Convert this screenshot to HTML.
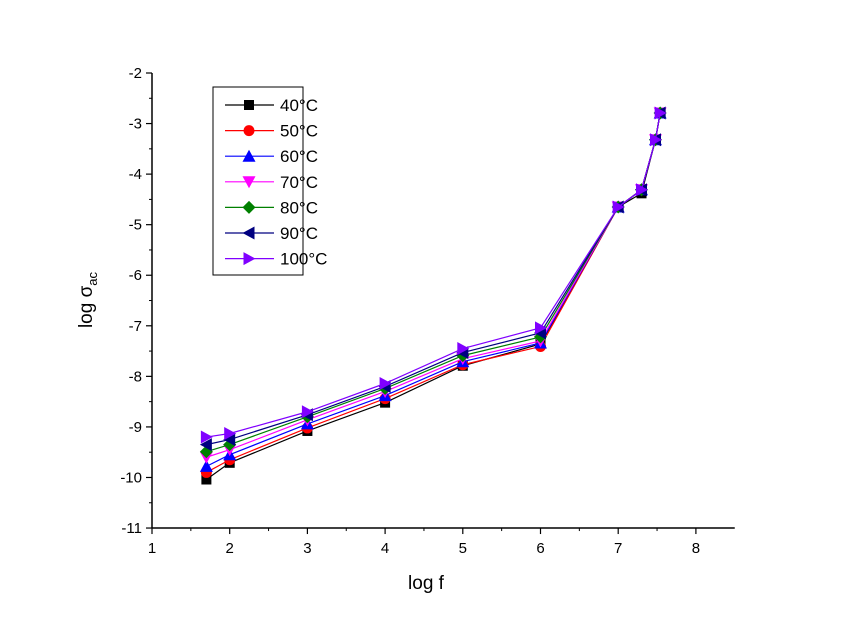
<!DOCTYPE html>
<html><head><meta charset="utf-8"><style>
body{margin:0;background:#fff}
svg text{font-family:"Liberation Sans",Arial,sans-serif;fill:#000}
</style></head><body>
<svg id="chart" width="853" height="635" viewBox="0 0 853 635" xmlns="http://www.w3.org/2000/svg"></svg>
<script>
const xValues=[1.7,2,3,4,5,6,7,7.3,7.48,7.54];
const seriesNames=["40°C","50°C","60°C","70°C","80°C","90°C","100°C"];
const s40=[-10.04,-9.71,-9.08,-8.52,-7.79,-7.36,-4.65,-4.38,-3.32,-2.79];
const s50=[-9.9,-9.65,-9.02,-8.44,-7.77,-7.41,-4.65,-4.31,-3.32,-2.79];
const s60=[-9.78,-9.55,-8.94,-8.38,-7.71,-7.34,-4.65,-4.31,-3.32,-2.79];
const s70=[-9.6,-9.45,-8.86,-8.3,-7.65,-7.3,-4.65,-4.31,-3.32,-2.79];
const s80=[-9.49,-9.35,-8.8,-8.24,-7.59,-7.22,-4.65,-4.31,-3.32,-2.79];
const s90=[-9.35,-9.25,-8.76,-8.2,-7.53,-7.14,-4.65,-4.31,-3.32,-2.79];
const s100=[-9.2,-9.13,-8.7,-8.14,-7.45,-7.04,-4.65,-4.31,-3.32,-2.79];
const xTicks=[1,2,3,4,5,6,7,8];
const yTicks=[-2,-3,-4,-5,-6,-7,-8,-9,-10,-11];
const seriesData=[s40,s50,s60,s70,s80,s90,s100];
const colors=["#000000","#ff0000","#0000ff","#ff00ff","#008000","#000080","#8000ff"];
const markers=["square","circle","up","down","diamond","left","right"];

const NS="http://www.w3.org/2000/svg";
const svg=document.getElementById('chart');
const X0=152,PX=77.7,Y0=73,PY=50.56;
const xs=v=>X0+(v-1)*PX;
const ys=v=>Y0+(-2-v)*PY;
function mk(tag,attrs,parent){const e=document.createElementNS(NS,tag);for(const k in attrs)e.setAttribute(k,attrs[k]);(parent||svg).appendChild(e);return e;}

const axes=mk('g',{});


const yAxis=mk('line',{x1:X0,y1:ys(-2),x2:X0,y2:ys(-11),stroke:'#000','stroke-width':1.5},axes);


const xAxis=mk('line',{x1:X0,y1:ys(-11),x2:xs(8.5),y2:ys(-11),stroke:'#000','stroke-width':1.5},axes);


const yb=ys(-11);
xTicks.forEach(t=>{
  mk('line',{x1:xs(t),y1:yb,x2:xs(t),y2:yb+6,stroke:'#000','stroke-width':1.2},axes);
  if(t<8)mk('line',{x1:xs(t+0.5),y1:yb,x2:xs(t+0.5),y2:yb+3,stroke:'#000','stroke-width':1},axes);
  const tx=mk('text',{x:xs(t),y:yb+25,'text-anchor':'middle','font-size':15},axes);tx.textContent=t;
  
  
});
yTicks.forEach(t=>{
  mk('line',{x1:X0,y1:ys(t),x2:X0-6,y2:ys(t),stroke:'#000','stroke-width':1.2},axes);
  if(t>-11)mk('line',{x1:X0,y1:ys(t-0.5),x2:X0-3,y2:ys(t-0.5),stroke:'#000','stroke-width':1},axes);
  const tx=mk('text',{x:X0-10,y:ys(t)+5,'text-anchor':'end','font-size':15},axes);tx.textContent=t;
  
  
});
const xt=mk('text',{x:426,y:589,'text-anchor':'middle','font-size':19});xt.textContent='log f';


const yt=mk('text',{x:0,y:0,'text-anchor':'middle','font-size':19,transform:'translate(92,300) rotate(-90)'});
yt.innerHTML='log σ<tspan font-size="13" dy="5">ac</tspan>';



function marker(type,x,y,c,parent){
  const r=5.5;let e;
  if(type==='square')e=mk('rect',{x:x-r+0.5,y:y-r+0.5,width:2*r-1,height:2*r-1,fill:c},parent);
  else if(type==='circle')e=mk('circle',{cx:x,cy:y,r:r,fill:c},parent);
  else{
    let p;
    if(type==='up')p=[[x,y-r-1],[x+r+1,y+r],[x-r-1,y+r]];
    if(type==='down')p=[[x-r-1,y-r],[x+r+1,y-r],[x,y+r+1]];
    if(type==='diamond')p=[[x,y-r-1],[x+r+1,y],[x,y+r+1],[x-r-1,y]];
    if(type==='left')p=[[x-r-1,y],[x+r,y-r-1],[x+r,y+r+1]];
    if(type==='right')p=[[x+r+1,y],[x-r,y-r-1],[x-r,y+r+1]];
    e=mk('polygon',{points:p.map(q=>q.join(',')).join(' '),fill:c},parent);
  }
  return e;
}

seriesData.forEach((d,i)=>{
  const g=mk('g',{});
  
  
  const pl=mk('polyline',{points:d.map((v,j)=>xs(xValues[j])+','+ys(v)).join(' '),fill:'none',stroke:colors[i],'stroke-width':1.2},g);
  
  
  d.forEach((v,j)=>{
    const m=marker(markers[i],xs(xValues[j]),ys(v),colors[i],g);
    
    
  });
});

const lg=mk('g',{});


mk('rect',{x:213,y:87,width:90,height:188,fill:'#fff',stroke:'#000','stroke-width':1},lg);
seriesNames.forEach((n,i)=>{
  const y=105+i*25.6;
  const e=mk('g',{},lg);
  
  
  mk('line',{x1:225,y1:y,x2:274,y2:y,stroke:colors[i],'stroke-width':1.2},e);
  marker(markers[i],249,y,colors[i],e);
  const t=mk('text',{x:280,y:y+6,'font-size':17},e);t.textContent=n;
});
</script>
</body></html>
